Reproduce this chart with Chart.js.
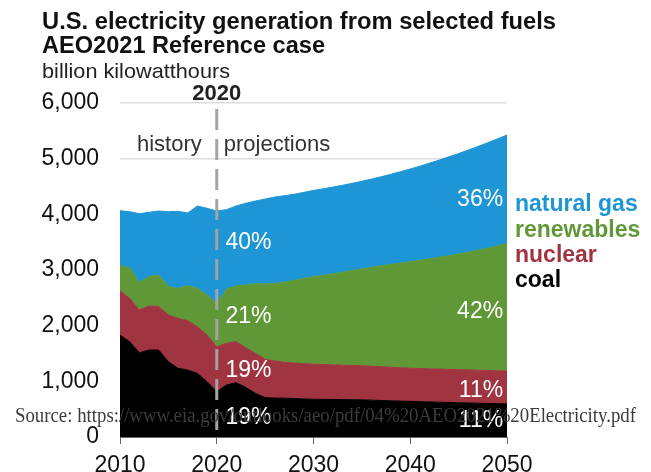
<!DOCTYPE html>
<html lang="en">
<head>
    <meta charset="UTF-8">
    <title>U.S. electricity generation from selected fuels</title>
    <script src="https://cdn.jsdelivr.net/npm/chart.js"></script>
    <style>
        html, body { margin: 0; padding: 0; background: #fff; }
        #chart { display: block; }
    </style>
</head>
<body>
    <canvas id="chart" width="651" height="472"></canvas>

    <script>
        // years on the x axis
        const years = [2010, 2011, 2012, 2013, 2014, 2015, 2016, 2017, 2018, 2019, 2020,
                       2021, 2022, 2023, 2024, 2025, 2026, 2027, 2028, 2029, 2030,
                       2031, 2032, 2033, 2034, 2035, 2036, 2037, 2038, 2039, 2040,
                       2041, 2042, 2043, 2044, 2045, 2046, 2047, 2048, 2049, 2050];

        // billion kWh
        const coal = [1832, 1712, 1514, 1563, 1563, 1353, 1233, 1203, 1144, 993, 814,
                      934, 976, 892, 785, 706, 700, 698, 690, 684, 678,
                      676, 674, 672, 670, 668, 662, 656, 650, 645, 640,
                      635, 630, 625, 620, 615, 611, 607, 603, 599, 595];
        const nuclear = [796, 779, 767, 790, 782, 838, 899, 887, 838, 839, 808,
                         749, 736, 712, 718, 690, 665, 643, 639, 633, 630,
                         626, 622, 618, 615, 612, 609, 606, 603, 599, 595,
                         595, 595, 595, 595, 595, 594, 593, 592, 591, 590];
        const renewables = [444, 550, 497, 527, 565, 509, 538, 628, 688, 719, 780,
                            969, 1006, 1126, 1251, 1354, 1395, 1437, 1485, 1533, 1572,
                            1603, 1634, 1670, 1705, 1740, 1779, 1813, 1847, 1881, 1915,
                            1945, 1975, 2008, 2040, 2078, 2115, 2155, 2195, 2240, 2290];
        const naturalGas = [992, 1007, 1234, 1156, 1150, 1348, 1384, 1306, 1480, 1557, 1658,
                            1432, 1432, 1468, 1486, 1525, 1551, 1557, 1546, 1545, 1550,
                            1553, 1559, 1562, 1567, 1575, 1584, 1601, 1620, 1642, 1665,
                            1691, 1720, 1747, 1778, 1804, 1835, 1864, 1896, 1925, 1950];

        const fuelNames = ['natural gas', 'renewables', 'nuclear', 'coal'];
        const share2020 = ['40%', '21%', '19%', '19%'];
        const share2050 = ['36%', '42%', '11%', '11%'];
        const yTicks = [0, 1000, 2000, 3000, 4000, 5000, 6000];
        const xTicks = [2010, 2020, 2030, 2040, 2050];

        const colors = {
            gas: '#1e96d6',
            ren: '#609838',
            nuc: '#a03440',
            coal: '#000000'
        };

        const SANS = '"Liberation Sans", Arial, sans-serif';

        function series(values) {
            return years.map((y, i) => ({ x: y, y: values[i] }));
        }

        // draw text squeezed or stretched to a given width
        function fitText(ctx, text, x, y, width) {
            const w = ctx.measureText(text).width;
            ctx.save();
            ctx.translate(x, y);
            ctx.scale(width / w, 1);
            ctx.fillText(text, 0, 0);
            ctx.restore();
        }

        const annotations = {
            id: 'annotations',
            afterDatasetsDraw(chart) {
                const ctx = chart.ctx;
                const xs = chart.scales.x;
                const ys = chart.scales.y;
                const area = chart.chartArea;

                // dashed 2020 divider
                const x20 = xs.getPixelForValue(2020);
                ctx.save();
                ctx.strokeStyle = '#a3a3a3';
                ctx.lineWidth = 3;
                ctx.setLineDash([21, 9]);
                ctx.beginPath();
                ctx.moveTo(x20, 109);
                ctx.lineTo(x20, area.bottom);
                ctx.stroke();
                ctx.restore();

                ctx.save();
                ctx.fillStyle = '#222';
                ctx.font = 'bold 22px ' + SANS;
                ctx.textAlign = 'center';
                ctx.textBaseline = 'alphabetic';
                ctx.fillText('2020', x20, 100);

                ctx.fillStyle = '#333';
                ctx.font = '22px ' + SANS;
                ctx.textAlign = 'right';
                ctx.fillText('history', x20 - 15, 151);
                ctx.textAlign = 'left';
                ctx.fillText('projections', x20 + 7, 151);

                // shares inside the bands
                ctx.fillStyle = '#fff';
                ctx.font = '23px ' + SANS;
                const leftVals = [3377, 2048, 1083, 234];
                const rightVals = [4150, 2138, 724, 180];
                ctx.textAlign = 'left';
                share2020.forEach((t, i) => {
                    ctx.fillText(t, xs.getPixelForValue(2020.9), ys.getPixelForValue(leftVals[i]));
                });
                ctx.textAlign = 'right';
                share2050.forEach((t, i) => {
                    ctx.fillText(t, xs.getPixelForValue(2049.6), ys.getPixelForValue(rightVals[i]));
                });

                // labels to the right
                const legendColors = [colors.gas, colors.ren, colors.nuc, colors.coal];
                const baselines = [211, 236.5, 261.5, 286.5];
                ctx.font = 'bold 23px ' + SANS;
                ctx.textAlign = 'left';
                fuelNames.forEach((n, i) => {
                    ctx.fillStyle = legendColors[i];
                    ctx.fillText(n, area.right + 8, baselines[i]);
                });
                ctx.restore();
            },
            afterDraw(chart) {
                const ctx = chart.ctx;
                ctx.save();
                ctx.textAlign = 'left';
                ctx.textBaseline = 'alphabetic';
                ctx.fillStyle = '#111';
                ctx.font = 'bold 23px ' + SANS;
                fitText(ctx, 'U.S. electricity generation from selected fuels', 42, 29, 514);
                fitText(ctx, 'AEO2021 Reference case', 42, 53, 283);
                ctx.font = '21px ' + SANS;
                ctx.fillStyle = '#222';
                fitText(ctx, 'billion kilowatthours', 42, 78, 188);

                ctx.fillStyle = '#3b3b3b';
                ctx.font = '20px "Liberation Serif", "Times New Roman", serif';
                fitText(ctx, 'Source: https://www.eia.gov/outlooks/aeo/pdf/04%20AEO2021%20Electricity.pdf', 15, 422, 621);
                ctx.restore();
            }
        };

        new Chart(document.getElementById('chart'), {
            type: 'line',
            data: {
                datasets: [
                    { label: 'coal', data: series(coal), backgroundColor: colors.coal, borderColor: colors.coal, fill: 'origin' },
                    { label: 'nuclear', data: series(nuclear), backgroundColor: colors.nuc, borderColor: colors.nuc, fill: '-1' },
                    { label: 'renewables', data: series(renewables), backgroundColor: colors.ren, borderColor: colors.ren, fill: '-1' },
                    { label: 'natural gas', data: series(naturalGas), backgroundColor: colors.gas, borderColor: colors.gas, fill: '-1' }
                ]
            },
            options: {
                responsive: false,
                animation: false,
                events: [],
                elements: {
                    point: { radius: 0 },
                    line: { borderWidth: 1, tension: 0 }
                },
                layout: { padding: { left: 0, right: 144, top: 103, bottom: 0 } },
                plugins: {
                    legend: { display: false },
                    tooltip: { enabled: false },
                    filler: { propagate: false }
                },
                scales: {
                    x: {
                        type: 'linear',
                        min: 2010,
                        max: 2050,
                        afterBuildTicks: s => { s.ticks = xTicks.map(v => ({ value: v })); },
                        ticks: {
                            color: '#111',
                            font: { family: SANS, size: 23 },
                            padding: 8,
                            maxRotation: 0,
                            callback: v => String(v)
                        },
                        grid: { drawOnChartArea: false, drawTicks: true, tickLength: 7, color: '#666' },
                        border: { display: true, color: '#666', width: 1 },
                        afterFit: s => { s.height = 35; }
                    },
                    y: {
                        stacked: true,
                        min: 0,
                        max: 6000,
                        afterBuildTicks: s => { s.ticks = yTicks.map(v => ({ value: v })); },
                        ticks: {
                            color: '#111',
                            font: { family: SANS, size: 23 },
                            padding: 21,
                            callback: v => v.toLocaleString('en-US')
                        },
                        grid: { color: '#dcdcdc', lineWidth: 1.5, drawTicks: false },
                        border: { display: false },
                        afterFit: s => { s.width = 120; }
                    }
                }
            },
            plugins: [annotations]
        });
    </script>
</body>
</html>
